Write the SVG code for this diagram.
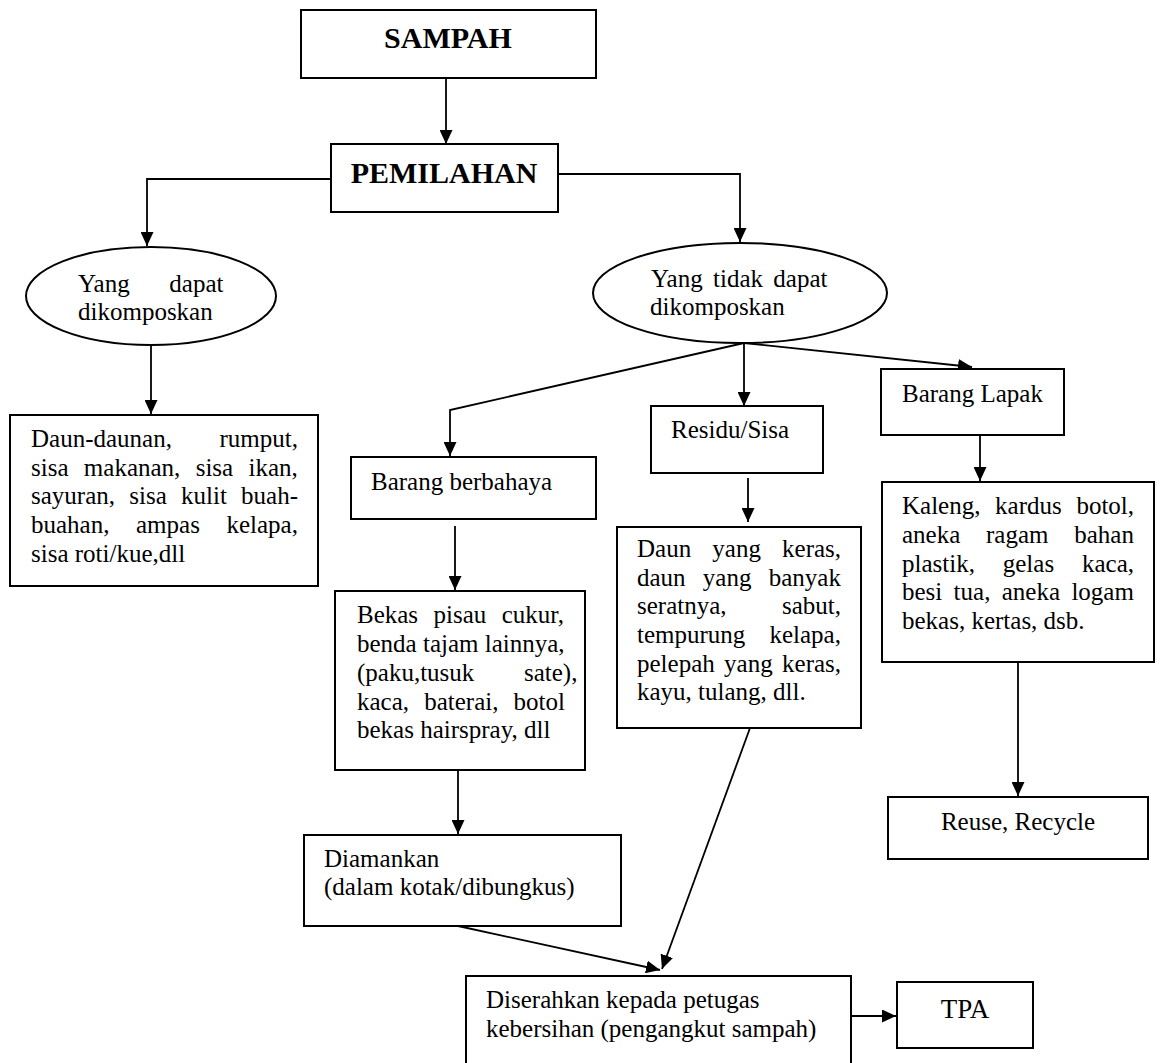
<svg xmlns="http://www.w3.org/2000/svg" width="1160" height="1063" viewBox="0 0 1160 1063">
<style>
.box{fill:#fff;stroke:#000;stroke-width:2}
.t{font-family:"Liberation Serif","Times New Roman",serif;font-size:25px;fill:#000}
.tb{font-family:"Liberation Serif","Times New Roman",serif;font-size:30px;font-weight:bold;fill:#000}
.c{fill:none;stroke:#000;stroke-width:1.8}
</style>
<defs>
<marker id="ah" markerUnits="userSpaceOnUse" markerWidth="14" markerHeight="13" refX="14" refY="6.5" orient="auto">
<path d="M0,0 L14,6.5 L0,13 z" fill="#000"/>
</marker>
</defs>
<rect width="1160" height="1063" fill="#fff"/>
<g id="connectors">
<line class="c" x1="446" y1="78" x2="446" y2="144" marker-end="url(#ah)"/>
<polyline class="c" points="331,179 147,179 147,246" marker-end="url(#ah)"/>
<polyline class="c" points="558,174 740,174 740,242" marker-end="url(#ah)"/>
<line class="c" x1="151" y1="345" x2="151" y2="414" marker-end="url(#ah)"/>
<polyline class="c" points="744,343 450,410 450,456" marker-end="url(#ah)"/>
<line class="c" x1="744" y1="343" x2="744" y2="406" marker-end="url(#ah)"/>
<line class="c" x1="744" y1="343" x2="972" y2="367" marker-end="url(#ah)"/>
<line class="c" x1="455" y1="526" x2="455" y2="590" marker-end="url(#ah)"/>
<line class="c" x1="748" y1="478" x2="748" y2="522" marker-end="url(#ah)"/>
<line class="c" x1="980" y1="435" x2="980" y2="481" marker-end="url(#ah)"/>
<line class="c" x1="1018" y1="662" x2="1018" y2="796" marker-end="url(#ah)"/>
<line class="c" x1="458" y1="770" x2="458" y2="834" marker-end="url(#ah)"/>
<line class="c" x1="458" y1="926" x2="660" y2="970" marker-end="url(#ah)"/>
<line class="c" x1="750" y1="728" x2="662" y2="969" marker-end="url(#ah)"/>
<line class="c" x1="851" y1="1016" x2="896" y2="1016" marker-end="url(#ah)"/>
</g>
<g id="sampah">
<rect class="box" x="301" y="10" width="295" height="68"/>
<text class="tb" x="448" y="48" text-anchor="middle">SAMPAH</text>
</g>
<g id="pemilahan">
<rect class="box" x="331" y="144" width="227" height="68"/>
<text class="tb" x="444" y="183" text-anchor="middle">PEMILAHAN</text>
</g>
<g id="dapat">
<ellipse class="box" cx="151" cy="296" rx="125" ry="49"/>
<text class="t" x="78" y="292" word-spacing="33.4">Yang dapat</text>
<text class="t" x="78" y="320">dikomposkan</text>
</g>
<g id="tidak-dapat">
<ellipse class="box" cx="740" cy="293" rx="147" ry="50"/>
<text class="t" x="651" y="287" word-spacing="4.1">Yang tidak dapat</text>
<text class="t" x="650" y="315">dikomposkan</text>
</g>
<g id="organik">
<rect class="box" x="10" y="415" width="308" height="171"/>
<text class="t" x="31" y="447" word-spacing="41.3">Daun-daunan, rumput,</text>
<text class="t" x="31" y="475.5" word-spacing="9.1">sisa makanan, sisa ikan,</text>
<text class="t" x="31" y="504" word-spacing="8">sayuran, sisa kulit buah-</text>
<text class="t" x="31" y="533" word-spacing="20.3">buahan, ampas kelapa,</text>
<text class="t" x="31" y="562">sisa roti/kue,dll</text>
</g>
<g id="berbahaya">
<rect class="box" x="351" y="457" width="245" height="62"/>
<text class="t" x="371" y="490">Barang berbahaya</text>
</g>
<g id="residu">
<rect class="box" x="651" y="406" width="172" height="67"/>
<text class="t" x="671" y="438">Residu/Sisa</text>
</g>
<g id="lapak">
<rect class="box" x="881" y="369" width="183" height="66"/>
<text class="t" x="902" y="402">Barang Lapak</text>
</g>
<g id="bekas">
<rect class="box" x="335" y="591" width="250" height="179"/>
<text class="t" x="357" y="623" word-spacing="9.2">Bekas pisau cukur,</text>
<text class="t" x="357" y="652">benda tajam lainnya,</text>
<text class="t" x="357" y="681" word-spacing="43.4">(paku,tusuk sate),</text>
<text class="t" x="357" y="710" word-spacing="8.9">kaca, baterai, botol</text>
<text class="t" x="357" y="738">bekas hairspray, dll</text>
</g>
<g id="daun-keras">
<rect class="box" x="617" y="527" width="244" height="201"/>
<text class="t" x="637" y="557" word-spacing="14.9">Daun yang keras,</text>
<text class="t" x="637" y="585.5" word-spacing="11">daun yang banyak</text>
<text class="t" x="637" y="614" word-spacing="49.2">seratnya, sabut,</text>
<text class="t" x="637" y="643" word-spacing="17.9">tempurung kelapa,</text>
<text class="t" x="637" y="671.5" word-spacing="3.1">pelepah yang keras,</text>
<text class="t" x="637" y="700">kayu, tulang, dll.</text>
</g>
<g id="kaleng">
<rect class="box" x="882" y="482" width="272" height="180"/>
<text class="t" x="902" y="514" word-spacing="8.4">Kaleng, kardus botol,</text>
<text class="t" x="902" y="543" word-spacing="19.5">aneka ragam bahan</text>
<text class="t" x="902" y="571.5" word-spacing="21.6">plastik, gelas kaca,</text>
<text class="t" x="902" y="600" word-spacing="5.1">besi tua, aneka logam</text>
<text class="t" x="902" y="629">bekas, kertas, dsb.</text>
</g>
<g id="reuse">
<rect class="box" x="888" y="797" width="260" height="62"/>
<text class="t" x="1018" y="830" text-anchor="middle">Reuse, Recycle</text>
</g>
<g id="diamankan">
<rect class="box" x="304" y="835" width="317" height="91"/>
<text class="t" x="324" y="867">Diamankan</text>
<text class="t" x="324" y="895">(dalam kotak/dibungkus)</text>
</g>
<g id="diserahkan">
<rect class="box" x="466" y="976" width="385" height="110"/>
<text class="t" x="486" y="1008">Diserahkan kepada petugas</text>
<text class="t" x="486" y="1037">kebersihan (pengangkut sampah)</text>
</g>
<g id="tpa">
<rect class="box" x="897" y="982" width="136" height="66"/>
<text class="t" x="965" y="1018" text-anchor="middle" style="font-size:27px">TPA</text>
</g>
</svg>
